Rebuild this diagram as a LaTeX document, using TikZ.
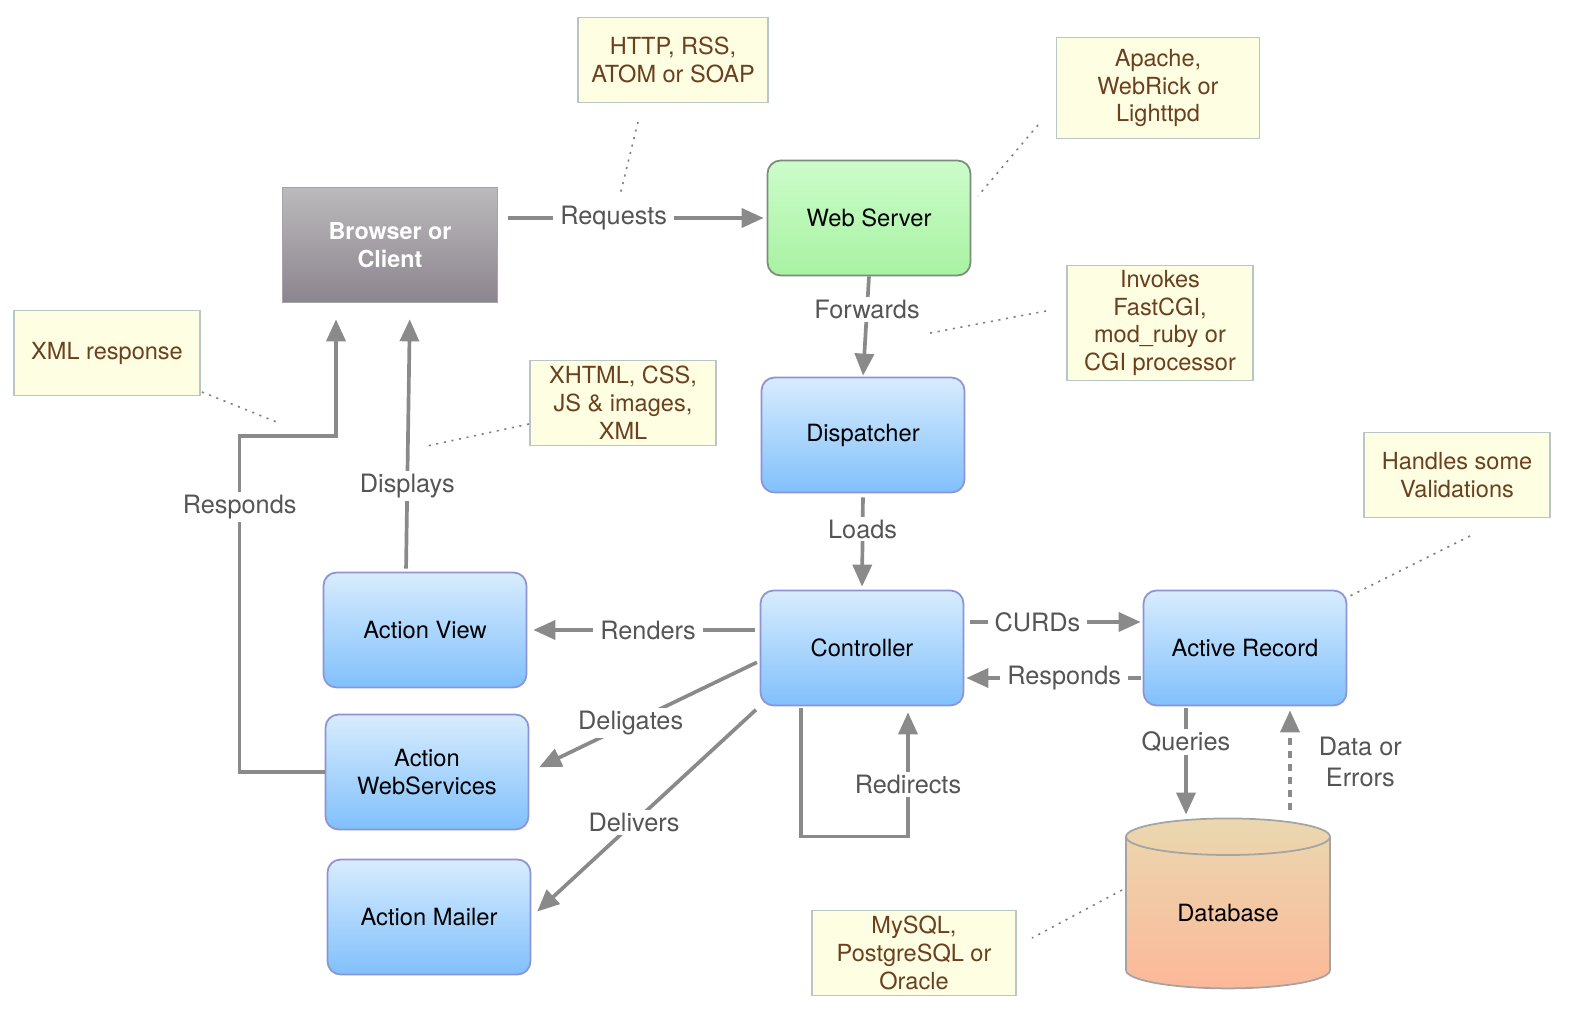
\documentclass[tikz,border=0pt]{standalone}
\usepackage{fontspec}
\setmainfont{TeX Gyre Heros}
\usetikzlibrary{arrows.meta,shapes.geometric}
\definecolor{arrowgray}{HTML}{8A8A8A}
\definecolor{labeltext}{HTML}{555555}
\definecolor{bluetop}{HTML}{D8ECFD}
\definecolor{bluebot}{HTML}{80C0FC}
\definecolor{blueedge}{HTML}{8C94D6}
\definecolor{greentop}{HTML}{CCFCCA}
\definecolor{greenbot}{HTML}{A8F2A2}
\definecolor{greenedge}{HTML}{7C8C7C}
\definecolor{graytop}{HTML}{BCBABC}
\definecolor{graybot}{HTML}{8C848E}
\definecolor{grayedge}{HTML}{A4A4A4}
\definecolor{dbtop}{HTML}{EAD8B0}
\definecolor{dbbot}{HTML}{FCB898}
\definecolor{notefill}{HTML}{FEFEE2}
\definecolor{noteedge}{HTML}{B9C6C6}
\definecolor{notetext}{HTML}{6B3F1F}
\definecolor{pingray}{HTML}{808080}
\begin{document}
\begin{tikzpicture}[x=0.02cm, y=-0.02cm,
	box/.style={draw=blueedge, line width=1pt, rounded corners=0.26cm, top color=bluetop, bottom color=bluebot, minimum width=4.06cm, minimum height=2.3cm, inner sep=0pt, align=center, font=\fontsize{13.5}{16}\selectfont},
	note/.style={draw=noteedge, line width=0.8pt, fill=notefill, text=notetext, minimum width=3.72cm, minimum height=1.7cm, inner sep=0pt, align=center, font=\fontsize{13.4}{15.9}\selectfont},
	arr/.style={draw=arrowgray, line width=2.1pt, -{Triangle[length=0.44cm,width=0.38cm]}},
	lbl/.style={fill=white, text=labeltext, inner xsep=0.14cm, inner ysep=0.06cm, font=\fontsize{14.4}{18}\selectfont},
	pin/.style={draw=pingray, line width=0.9pt, dash pattern=on 1.2pt off 3.2pt}]
	\useasboundingbox (0,0) rectangle (1573,1010);
	\node [box, draw=grayedge, rounded corners=0pt, top color=graytop, bottom color=graybot, text=white, font=\fontsize{13.3}{15.9}\selectfont\bfseries, minimum width=4.3cm] (browser) at (390,245) {Browser or\\Client};
	\node [box, draw=greenedge, top color=greentop, bottom color=greenbot] (websrv) at (869,218) {Web Server};
	\node [box] (dispatch) at (863,435) {Dispatcher};
	\node [box] (ctrl) at (862,648) {Controller};
	\node [box] (actrec) at (1245,648) {Active Record};
	\node [box] (view) at (425,630) {Action View};
	\node [box] (websvc) at (427,772) {Action\\WebServices};
	\node [box] (mailer) at (429,917) {Action Mailer};
	\node [draw=grayedge, line width=1pt, shape=cylinder, shape border rotate=90, aspect=0.36, top color=dbtop, bottom color=dbbot, minimum width=4.08cm, minimum height=3.4cm, inner sep=0pt, font=\fontsize{13.5}{16}\selectfont] (db) at (1228,913) {Database};
	\node [note, minimum width=3.8cm] (n-proto) at (673,60) {HTTP, RSS,\\ATOM or SOAP};
	\node [note, minimum width=4.06cm, minimum height=2.02cm] (n-server) at (1158,88) {Apache,\\WebRick or\\Lighttpd};
	\node [note, minimum height=2.3cm] (n-invoke) at (1160,323) {Invokes\\FastCGI,\\mod\_ruby or\\CGI processor};
	\node [note] (n-xml) at (107,353) {XML response};
	\node [note] (n-xhtml) at (623,403) {XHTML, CSS,\\JS \& images,\\XML};
	\node [note] (n-valid) at (1457,475) {Handles some\\Validations};
	\node [note, minimum width=4.08cm] (n-sql) at (914,953) {MySQL,\\PostgreSQL or\\Oracle};
	\coordinate (p-proto-a) at (638,122);
	\coordinate (p-proto-b) at (620,195);
	\coordinate (p-server-a) at (1038,125);
	\coordinate (p-server-b) at (978,196);
	\coordinate (p-invoke-a) at (1046,311);
	\coordinate (p-invoke-b) at (925,334);
	\coordinate (p-xml-a) at (202,392);
	\coordinate (p-xml-b) at (279,423);
	\coordinate (p-xhtml-a) at (529,424);
	\coordinate (p-xhtml-b) at (427,446);
	\coordinate (p-valid-a) at (1470,536);
	\coordinate (p-valid-b) at (1350,596);
	\coordinate (p-sql-a) at (1122,890);
	\coordinate (p-sql-b) at (1032,938);
	\draw [pin] (p-proto-a) -- (p-proto-b);
	\draw [pin] (p-server-a) -- (p-server-b);
	\draw [pin] (p-invoke-a) -- (p-invoke-b);
	\draw [pin] (p-xml-a) -- (p-xml-b);
	\draw [pin] (p-xhtml-a) -- (p-xhtml-b);
	\draw [pin] (p-valid-a) -- (p-valid-b);
	\draw [pin] (p-sql-a) -- (p-sql-b);
	\draw [arr, shorten <=0.2cm, shorten >=0.06cm] (browser.east |- websrv.west) -- node [lbl, pos=0.43] {Requests} (websrv.west);
	\draw [arr, shorten >=0.02cm] (websrv.south) -- node [lbl, pos=0.33] {Forwards} (dispatch.north);
	\draw [arr, shorten <=0.08cm, shorten >=0.06cm] (dispatch.south) -- node [lbl, pos=0.37] {Loads} (ctrl.north);
	\draw [arr, shorten <=0.1cm, shorten >=0.12cm] (ctrl.west |- view.east) -- node [lbl, pos=0.48] {Renders} (view.east);
	\draw [arr, shorten <=0.12cm, shorten >=0.04cm] ([yshift=0.52cm]ctrl.east) -- node [lbl, pos=0.41] {CURDs} ([yshift=0.52cm]actrec.west);
	\draw [arr, shorten <=0.04cm, shorten >=0.04cm] ([yshift=-0.6cm]actrec.west) -- node [lbl, pos=0.44] {Responds} ([yshift=-0.6cm]ctrl.east);
	\draw [arr, shorten <=0.06cm, shorten >=0.22cm] ([yshift=-0.26cm]ctrl.west) -- node [lbl, pos=0.56] {Deligates} (websvc.east);
	\draw [arr, shorten <=0.1cm, shorten >=0.16cm] (ctrl.south west) -- node [lbl, pos=0.55] {Delivers} (mailer.east);
	\draw [arr, shorten <=0.04cm, shorten >=0.12cm] ([xshift=-1.22cm]ctrl.south) -- ++(0,130) -| node [lbl, pos=0.7] {Redirects} ([xshift=0.92cm]ctrl.south);
	\coordinate (q-top) at ([xshift=-1.18cm]actrec.south);
	\coordinate (d-top) at ([xshift=0.9cm]actrec.south);
	\draw [arr, shorten <=0.04cm, shorten >=0.06cm] (q-top) -- node [lbl, pos=0.32] {Queries} (q-top |- db.north);
	\draw [arr, dash pattern=on 0.14cm off 0.12cm, shorten <=0.16cm, shorten >=0.08cm] (d-top |- db.north) -- node [lbl, pos=0.5, fill=none, anchor=west, xshift=0.4cm, align=center] {Data or\\Errors} (d-top);
	\draw [arr, shorten <=0.06cm, shorten >=0.32cm] ([xshift=-0.38cm]view.north) -- node [lbl, pos=0.32] {Displays} ([xshift=0.4cm]browser.south);
	\draw [arr, shorten >=0.32cm] (websvc.west) -- ++(-85,0) -- node [lbl, pos=0.79] {Responds} ++(0,-336) -| ([xshift=-1.08cm]browser.south);
\end{tikzpicture}
\end{document}
